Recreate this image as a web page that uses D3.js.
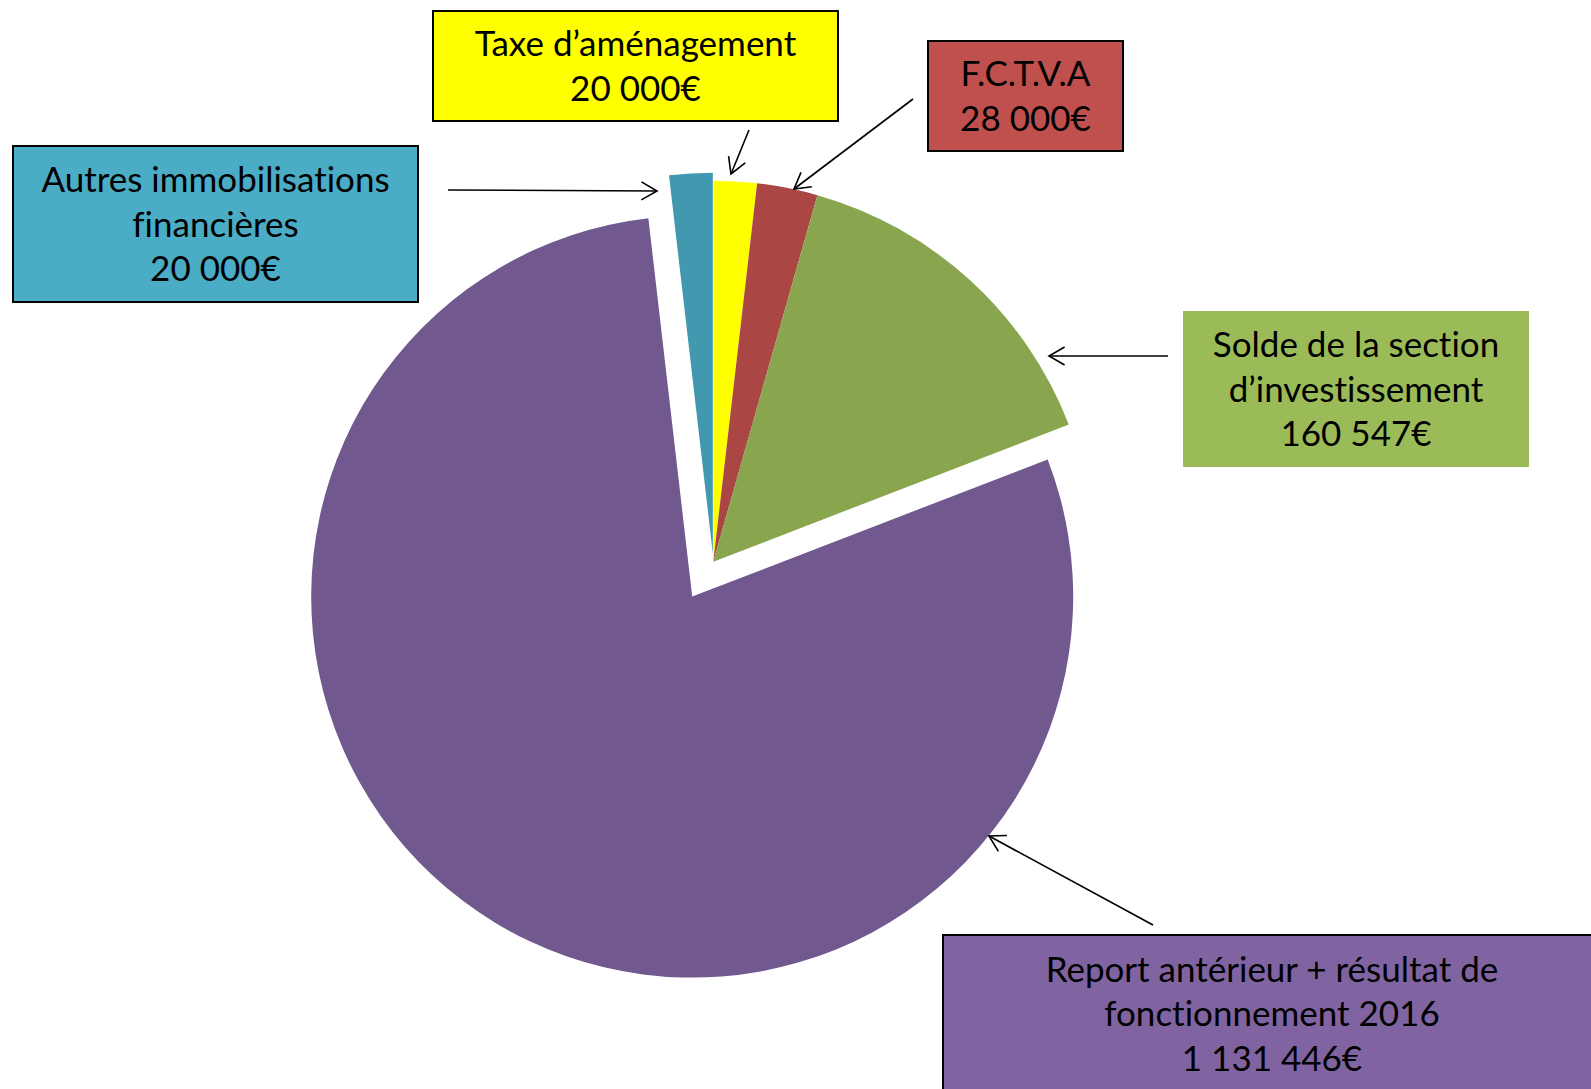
<!DOCTYPE html>
<html>
<head>
<meta charset="utf-8">
<script src="https://cdn.jsdelivr.net/npm/d3@7"></script>
<style>
  html, body { margin: 0; padding: 0; background: #fff; }
  svg { display: block; }
  text { font-family: "Lato", "Open Sans", sans-serif; fill: #000; font-variant-ligatures: none; }
</style>
</head>
<body>
<div id="chart"></div>
<script>
// categories, clockwise from 12 o'clock
const categories = [
  "Taxe d’aménagement",
  "F.C.T.V.A",
  "Solde de la section d’investissement",
  "Report antérieur + résultat de fonctionnement 2016",
  "Autres immobilisations financières"
];
// amounts written in the callouts
const amountLabels = ["20 000€", "28 000€", "160 547€", "1 131 446€", "20 000€"];
// slice sizes as drawn
const sliceValues = [20000, 28000, 160547, 861000, 20000];

const sliceColors = ["#FFFF00", "#AA4643", "#89A54E", "#71588F", "#4198AF"];
const boxColors   = ["#FFFF00", "#C0504D", "#9BBB59", "#8064A2", "#4BACC6"];

const width = 1591, height = 1089;
const cx = 713.3, cy = 561.7, radius = 381;
const explode = [0, 0, 0, 40.8, 8];

// callout boxes: x, y, w, h, text lines, border
const boxes = [
  { i: 0, x: 433, y: 11, w: 405, h: 110, lines: ["Taxe d’aménagement", amountLabels[0]], border: true },
  { i: 1, x: 928, y: 41, w: 195, h: 110, lines: ["F.C.T.V.A", amountLabels[1]], border: true },
  { i: 2, x: 1183, y: 311, w: 346, h: 156, lines: ["Solde de la section", "d’investissement", amountLabels[2]], border: false },
  { i: 3, x: 943, y: 935, w: 700, h: 200, lines: ["Report antérieur + résultat de", "fonctionnement 2016", amountLabels[3]], border: true, textCx: 1272, textTop: 969 },
  { i: 4, x: 13, y: 146, w: 405, h: 156, lines: ["Autres immobilisations", "financières", amountLabels[4]], border: true }
];

// arrows from callout to slice
const arrows = [
  [[749, 130], [731, 174]],
  [[913, 99], [794, 189]],
  [[1168, 356], [1049, 356]],
  [[1153, 925], [989, 836]],
  [[448, 190], [657, 191]]
];

const svg = d3.select("#chart").append("svg")
  .attr("width", width)
  .attr("height", height);

svg.append("rect").attr("width", width).attr("height", height).attr("fill", "#fff");

const pie = d3.pie().sort(null).value(d => d);
const arc = d3.arc().innerRadius(0).outerRadius(radius);
const arcs = pie(sliceValues);

svg.append("g")
  .attr("transform", `translate(${cx},${cy})`)
  .selectAll("path")
  .data(arcs)
  .enter().append("path")
  .attr("d", arc)
  .attr("fill", (d, i) => sliceColors[i])
  .attr("transform", (d, i) => {
    const a = (d.startAngle + d.endAngle) / 2;
    return `translate(${Math.sin(a) * explode[i]},${-Math.cos(a) * explode[i]})`;
  });

// callouts
const lineGap = 44.6;
const box = svg.append("g").selectAll("g")
  .data(boxes)
  .enter().append("g");

box.append("rect")
  .attr("x", d => d.x)
  .attr("y", d => d.y)
  .attr("width", d => d.w)
  .attr("height", d => d.h)
  .attr("fill", d => boxColors[d.i])
  .attr("stroke", d => d.border ? "#000" : "none")
  .attr("stroke-width", 2);

box.each(function(d) {
  const g = d3.select(this);
  const tx = d.textCx !== undefined ? d.textCx : d.x + d.w / 2;
  const top = d.textTop !== undefined ? d.textTop
    : d.y + d.h / 2 - (d.lines.length - 1) * lineGap / 2;
  d.lines.forEach((t, k) => {
    g.append("text")
      .attr("x", tx)
      .attr("y", top + k * lineGap)
      .attr("dy", "0.36em")
      .attr("text-anchor", "middle")
      .attr("font-size", 35)
      .text(t);
  });
});

// open arrow heads
const arrowG = svg.append("g")
  .attr("stroke", "#000")
  .attr("stroke-width", 1.6)
  .attr("fill", "none");

arrows.forEach(([from, to]) => {
  arrowG.append("line")
    .attr("x1", from[0]).attr("y1", from[1])
    .attr("x2", to[0]).attr("y2", to[1]);
  const ang = Math.atan2(to[1] - from[1], to[0] - from[0]);
  const len = 18, spread = Math.PI / 6;
  const p1 = [to[0] - len * Math.cos(ang - spread), to[1] - len * Math.sin(ang - spread)];
  const p2 = [to[0] - len * Math.cos(ang + spread), to[1] - len * Math.sin(ang + spread)];
  arrowG.append("path")
    .attr("d", `M${p1[0]},${p1[1]}L${to[0]},${to[1]}L${p2[0]},${p2[1]}`);
});
</script>
</body>
</html>
